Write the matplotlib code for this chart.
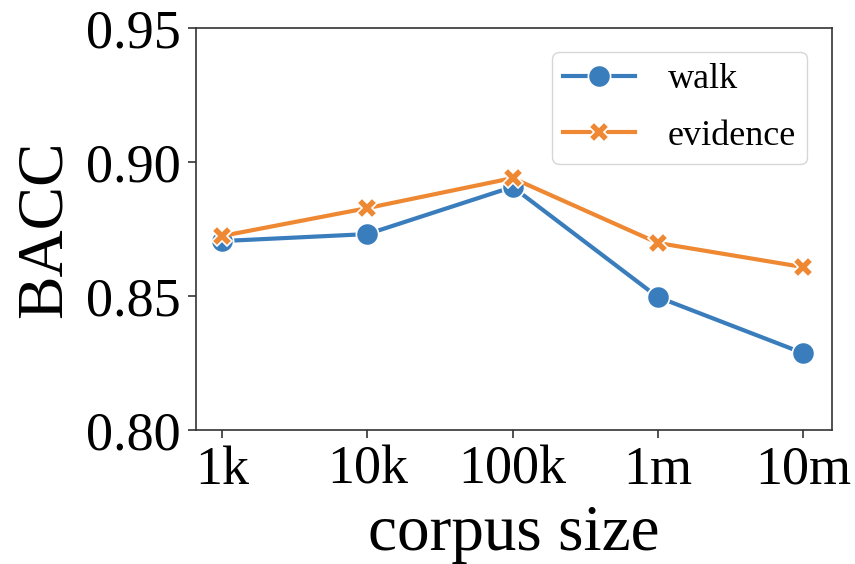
import numpy as np
import matplotlib
matplotlib.use("Agg")
from matplotlib import pyplot as plt

sizes = ["1k", "10k", "100k", "1m", "10m"]
walk = [0.8705, 0.8731, 0.8907, 0.8496, 0.8287]
evidence = [0.8724, 0.8828, 0.8940, 0.8698, 0.8608]

plt.rcParams['font.family'] = ['Liberation Serif', 'DejaVu Serif']

fig = plt.figure(figsize=(8.55, 5.64), dpi=100)
ax = fig.add_axes([196 / 855, 1 - 430 / 564, (832 - 196) / 855, (430 - 28) / 564])

x = np.arange(len(sizes))
ax.plot(x, walk, color='#3a7dbd', lw=3, marker='o', ms=16,
        mec='white', mew=1.2, label='walk')
ax.plot(x, evidence, color='#ee8833', lw=3, marker='X', ms=15,
        mec='white', mew=1.2, label='evidence')

ax.set_xticks(x)
ax.set_xticklabels(sizes)
ax.set_xlim(-0.18, 4.2)
ax.set_ylim(0.80, 0.95)
ax.set_yticks([0.80, 0.85, 0.90, 0.95])
ax.set_yticklabels(["0.80", "0.85", "0.90", "0.95"])
ax.tick_params(labelsize=39, length=6, width=1.2, color='#333333', pad=5)
for s in ax.spines.values():
    s.set_color('#333333')
    s.set_linewidth(1.2)

ax.set_xlabel("corpus size", fontsize=47, labelpad=6)
ax.set_ylabel("BACC", fontsize=47, labelpad=8)
ax.legend(loc='upper right', fontsize=26, handlelength=2.0, borderpad=0.3,
          labelspacing=0.65, handletextpad=0.9,
          bbox_to_anchor=(0.989, 0.985))

fig.savefig("out.png", dpi=100)
